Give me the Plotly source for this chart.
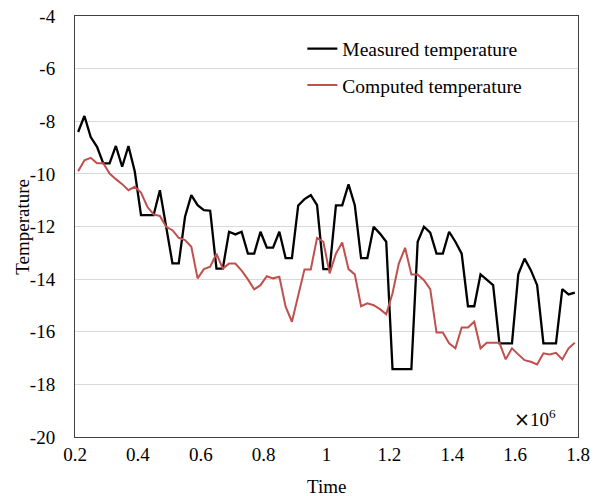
import plotly.graph_objects as go

time = [0.21, 0.23, 0.25, 0.27, 0.29, 0.31, 0.33, 0.35, 0.37, 0.39,
        0.41, 0.43, 0.45, 0.47, 0.49, 0.51, 0.53, 0.55, 0.57, 0.59,
        0.61, 0.63, 0.65, 0.67, 0.69, 0.71, 0.73, 0.75, 0.77, 0.79,
        0.81, 0.83, 0.85, 0.87, 0.89, 0.91, 0.93, 0.95, 0.97, 0.99,
        1.01, 1.03, 1.05, 1.07, 1.09, 1.11, 1.13, 1.15, 1.17, 1.19,
        1.21, 1.23, 1.25, 1.27, 1.29, 1.31, 1.33, 1.35, 1.37, 1.39,
        1.41, 1.43, 1.45, 1.47, 1.49, 1.51, 1.53, 1.55, 1.57, 1.59,
        1.61, 1.63, 1.65, 1.67, 1.69, 1.71, 1.73, 1.75, 1.77, 1.79]

measured = [-8.41, -7.8, -8.6, -8.97, -9.6, -9.6, -8.94, -9.73, -8.94, -9.9,
            -11.57, -11.57, -11.57, -10.62, -12.0, -13.4, -13.4, -11.63, -10.81, -11.19,
            -11.38, -11.4, -13.6, -13.6, -12.2, -12.3, -12.2, -13.03, -13.03, -12.2,
            -12.8, -12.8, -12.2, -13.2, -13.2, -11.2, -10.96, -10.81, -11.19, -13.62,
            -13.62, -11.2, -11.2, -10.4, -11.19, -13.2, -13.2, -12.01, -12.27, -12.58,
            -17.42, -17.42, -17.42, -17.42, -12.58, -12.01, -12.23, -13.03, -13.03, -12.2,
            -12.58, -13.03, -15.03, -15.03, -13.82, -14.01, -14.23, -16.44, -16.44, -16.44,
            -13.82, -13.22, -13.66, -14.23, -16.44, -16.44, -16.44, -14.38, -14.58, -14.51]

computed = [-9.9, -9.48, -9.39, -9.6, -9.6, -9.99, -10.2, -10.39, -10.62, -10.49,
            -10.71, -11.25, -11.54, -11.6, -12.01, -12.14, -12.43, -12.52, -12.77, -13.97,
            -13.62, -13.53, -13.03, -13.6, -13.41, -13.41, -13.68, -14.01, -14.39, -14.23,
            -13.89, -13.97, -13.91, -15.05, -15.62, -14.61, -13.63, -13.63, -12.43, -12.58,
            -13.78, -13.03, -12.61, -13.62, -13.82, -15.03, -14.92, -14.99, -15.14, -15.34,
            -14.54, -13.41, -12.81, -13.82, -13.82, -14.04, -14.38, -16.03, -16.03, -16.44,
            -16.63, -15.84, -15.84, -15.62, -16.63, -16.42, -16.42, -16.42, -17.05, -16.63,
            -16.86, -17.08, -17.14, -17.24, -16.82, -16.86, -16.8, -17.05, -16.63, -16.42]

x_ticks = [0.2, 0.4, 0.6, 0.8, 1.0, 1.2, 1.4, 1.6, 1.8]
x_ticktext = ["0.2", "0.4", "0.6", "0.8", "1", "1.2", "1.4", "1.6", "1.8"]
y_ticks = [-20, -18, -16, -14, -12, -10, -8, -6, -4]
y_ticktext = ["-20", "-18", "-16", "-14", "-12", "-10", "-8", "-6", "-4"]

FONT = "Liberation Serif"
FS = 19
TICKFONT = dict(family=FONT, size=FS, color="#000000")

fig = go.Figure()
fig.add_trace(go.Scatter(x=time, y=measured, mode="lines", name="Measured temperature",
                         line=dict(color="#000000", width=2.3), legendgroup="a"))
fig.add_trace(go.Scatter(x=time, y=computed, mode="lines", name="Computed temperature",
                         line=dict(color="#C0504D", width=2), legendgroup="b"))

fig.update_layout(
    width=599, height=496,
    margin=dict(l=75, r=21, t=16, b=59, autoexpand=False),
    paper_bgcolor="white", plot_bgcolor="white",
    font=dict(family=FONT, size=FS, color="#000000"),
    showlegend=True,
    legend=dict(x=0.452, y=0.968, xanchor="left", yanchor="top",
                bgcolor="rgba(0,0,0,0)", tracegroupgap=8,
                font=dict(family=FONT, size=19.5, color="#000000")),
    xaxis=dict(range=[0.2, 1.8], tickvals=x_ticks, ticktext=x_ticktext,
               tickfont=TICKFONT,
               showgrid=False, zeroline=False, showline=True, linecolor="#404040",
               linewidth=1, mirror=True, ticks="", ticklabelstandoff=0,
               automargin=False),
    yaxis=dict(range=[-20, -4], tickvals=y_ticks, ticktext=y_ticktext,
               tickfont=TICKFONT,
               showgrid=True, gridcolor="#d9d9d9",
               gridwidth=1, zeroline=False, showline=True, linecolor="#404040",
               linewidth=1, mirror=True, ticks="", ticklabelstandoff=15,
               automargin=False),
    annotations=[
        dict(text="<span style='font-family:DejaVu Sans;font-size:19px'>×</span>10<sup>6</sup>",
             x=0.96, y=0.012, xref="paper", yref="paper",
             xanchor="right", yanchor="bottom", showarrow=False,
             font=dict(family=FONT, size=FS, color="#000000")),
        dict(text="Time", x=0.5, y=-0.1164, xref="paper", yref="paper",
             xanchor="center", yanchor="middle", showarrow=False,
             font=dict(family=FONT, size=FS, color="#000000")),
        dict(text="Temperature", x=-0.105, y=0.5, xref="paper", yref="paper",
             xanchor="center", yanchor="middle", textangle=-90, showarrow=False,
             font=dict(family=FONT, size=FS, color="#000000")),
    ],
)

fig.write_html("out.html")
